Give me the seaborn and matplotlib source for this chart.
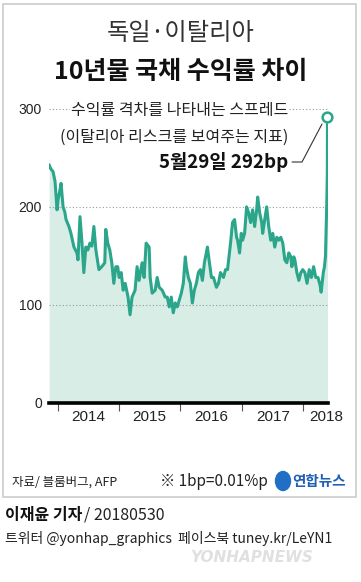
import matplotlib
matplotlib.use("Agg")
import matplotlib.pyplot as plt
from matplotlib.patches import Rectangle, Ellipse
import seaborn as sns
import pandas as pd

sns.set_theme(style="white")
plt.rcParams['font.family'] = ['Noto Sans CJK KR', 'DejaVu Sans']

# Germany-Italy 10y spread (bp)
dates = [
    "2013-11-09", "2013-11-15", "2013-11-22", "2013-12-02", "2013-12-14", "2013-12-26",
    "2014-01-01", "2014-01-10", "2014-01-19", "2014-01-31", "2014-02-10", "2014-02-18",
    "2014-03-07", "2014-03-19", "2014-04-06", "2014-04-24", "2014-04-30", "2014-05-12",
    "2014-05-24", "2014-06-04", "2014-06-16", "2014-06-28", "2014-07-10", "2014-07-22",
    "2014-08-03", "2014-08-15", "2014-09-02", "2014-09-19", "2014-10-07", "2014-10-13",
    "2014-10-25", "2014-11-06", "2014-11-18", "2014-11-30", "2014-12-12", "2014-12-23",
    "2015-01-01", "2015-01-13", "2015-01-25", "2015-02-06", "2015-02-23", "2015-03-07",
    "2015-03-19", "2015-04-06", "2015-04-18", "2015-04-30", "2015-05-18", "2015-05-30",
    "2015-06-11", "2015-06-29", "2015-07-05", "2015-07-17", "2015-08-04", "2015-08-16",
    "2015-08-28", "2015-09-15", "2015-10-03", "2015-10-15", "2015-10-27", "2015-11-08",
    "2015-11-20", "2015-12-02", "2015-12-14", "2015-12-26",
    "2016-01-07", "2016-01-19", "2016-01-31", "2016-02-06", "2016-02-18", "2016-03-01",
    "2016-03-13", "2016-03-25", "2016-04-06", "2016-04-18", "2016-04-30", "2016-05-12",
    "2016-05-24", "2016-06-11", "2016-06-23", "2016-07-05", "2016-07-17", "2016-08-04",
    "2016-08-16", "2016-08-28", "2016-09-15", "2016-09-27", "2016-10-09", "2016-10-27",
    "2016-11-08", "2016-11-20", "2016-12-02", "2016-12-08", "2016-12-20", "2016-12-30",
    "2017-01-07", "2017-01-19", "2017-01-31", "2017-02-12", "2017-02-24", "2017-03-08",
    "2017-03-20", "2017-04-01", "2017-04-07", "2017-04-19", "2017-05-01", "2017-05-07",
    "2017-05-19", "2017-05-31", "2017-06-12", "2017-06-24", "2017-07-06", "2017-07-18",
    "2017-07-30", "2017-08-11", "2017-08-23", "2017-09-04", "2017-09-16", "2017-09-28",
    "2017-10-10", "2017-10-22", "2017-10-28", "2017-11-09", "2017-11-15", "2017-11-27",
    "2017-12-09", "2017-12-21",
    "2018-01-01", "2018-01-14", "2018-01-27", "2018-02-09", "2018-02-22", "2018-03-07",
    "2018-03-20", "2018-04-02", "2018-04-15", "2018-04-21", "2018-05-04", "2018-05-11",
    "2018-05-17", "2018-05-22", "2018-05-25", "2018-05-28", "2018-05-29",
]
spread = [
    243, 240, 238, 236, 226, 197,
    207, 215, 224, 200, 195, 187,
    180, 173, 159, 153, 146, 190,
    163, 133, 159, 156, 163, 160,
    180, 156, 136, 139, 143, 177,
    163, 156, 143, 122, 139, 139,
    128, 133, 115, 122, 108, 90,
    108, 115, 139, 125, 143, 128,
    163, 159, 128, 112, 115, 128,
    118, 115, 108, 108, 98, 108,
    92, 102, 98, 105,
    112, 122, 149, 139, 128, 122,
    102, 115, 122, 133, 136, 125,
    143, 159, 143, 128, 128, 118,
    122, 133, 128, 136, 136, 163,
    184, 187, 169, 166, 153, 173,
    166, 173, 200, 194, 184, 197,
    180, 197, 210, 194, 184, 173,
    187, 200, 180, 166, 173, 159,
    169, 166, 169, 163, 146, 143,
    153, 149, 139, 149, 146, 133,
    125, 133,
    136, 133, 122, 136, 128, 139,
    128, 128, 120, 113, 133, 139,
    150, 185, 206, 235, 292,
]
year_ticks = ["2014-01-01", "2015-01-01", "2016-01-01", "2017-01-01", "2018-01-01"]
year_label_pos = ["2014-06-29", "2015-07-01", "2016-07-01", "2017-07-06", "2018-05-24"]
year_labels = ["2014", "2015", "2016", "2017", "2018"]
y_ticks = [0, 100, 200, 300]

df = pd.DataFrame({"date": pd.to_datetime(dates), "spread": spread})

W, H = 361, 582
fig = plt.figure(figsize=(W / 100, H / 100), dpi=100)
fig.patch.set_facecolor("white")


def fx(px):
    return px / W


def fy(py):
    return 1 - py / H


line_c = "#2ba68a"
fill_c = "#d7ede6"

ax = fig.add_axes([fx(49), fy(403), fx(328) - fx(49), fy(99) - fy(403)])
ax.set_facecolor("none")
ax.fill_between(df["date"], df["spread"], 0, color=fill_c, lw=0, zorder=1)
sns.lineplot(data=df, x="date", y="spread", ax=ax, color=line_c, lw=2.2, zorder=3)
ax.plot(df["date"].iloc[-1], df["spread"].iloc[-1], "o", ms=7, mfc="white",
        mec=line_c, mew=1.8, zorder=5, clip_on=False)

ax.set_xlim(pd.Timestamp("2013-11-08"), pd.Timestamp("2018-06-01"))
ax.set_ylim(0, 310)
for v in y_ticks[1:]:
    ax.axhline(v, color="#999999", lw=0.8, ls=(0, (1, 2)), zorder=2)

for s in ["top", "right", "left"]:
    ax.spines[s].set_visible(False)
ax.spines["bottom"].set_color("black")
ax.spines["bottom"].set_linewidth(2.6)
ax.spines["bottom"].set_zorder(6)

ax.set_xticks(pd.to_datetime(year_ticks))
ax.set_xticklabels([])
ax.set_xticks(pd.to_datetime(year_label_pos), minor=True)
ax.set_xticklabels(year_labels, minor=True, fontsize=11, color="#222222",
                   family="Liberation Sans")
ax.tick_params(axis="x", which="major", bottom=True, length=6, width=0.8,
               color="#555555", direction="out")
ax.tick_params(axis="x", which="minor", bottom=False, length=0, pad=5)
ax.set_yticks(y_ticks)
ax.set_yticklabels([str(v) for v in y_ticks], fontsize=10, color="#222222",
                   family="Liberation Sans")
ax.tick_params(axis="y", left=False, length=0, pad=5)
ax.set_xlabel("")
ax.set_ylabel("")

# annotation
box = dict(facecolor="white", edgecolor="none", pad=0.5)
fig.text(fx(288), fy(111), "수익률 격차를 나타내는 스프레드", ha="right", va="center",
         fontsize=11.5, color="#222222", bbox=box)
fig.text(fx(288), fy(137), "(이탈리아 리스크를 보여주는 지표)", ha="right", va="center",
         fontsize=11.5, color="#222222", bbox=box)
fig.text(fx(288), fy(162), "5월29일 292bp", ha="right", va="center",
         fontsize=13.5, color="#111111", fontweight="bold")
fig.add_artist(plt.Line2D([fx(292), fx(302), fx(322)], [fy(162), fy(162), fy(124)],
                          color="#333333", lw=0.8))

# titles
fig.text(0.5, fy(33), "독일·이탈리아", ha="center", va="center", fontsize=17.5,
         color="#333333")
fig.text(0.5, fy(72), "10년물 국채 수익률 차이", ha="center", va="center",
         fontsize=18, color="#111111", fontweight="bold")

# frame
fig.add_artist(Rectangle((fx(3), fy(497)), fx(356) - fx(3), fy(4) - fy(497),
                         transform=fig.transFigure, fill=False,
                         edgecolor="#cccccc", lw=1.2))

# footer inside frame
fig.text(fx(12), fy(482), "자료/ 블룸버그, AFP", ha="left", va="center",
         fontsize=9, style="italic", color="#222222")
fig.text(fx(268), fy(482), "※ 1bp=0.01%p", ha="right", va="center",
         fontsize=11, color="#222222")
fig.add_artist(Ellipse((fx(283), fy(481)), fx(15), 19 / H,
                       transform=fig.transFigure, color="#1f6fc4"))
fig.text(fx(292), fy(481), "연합뉴스", ha="left", va="center", fontsize=10.5,
         fontweight="bold", color="#1f5fb5")

# credits
fig.text(fx(5), fy(515), "이재윤 기자", ha="left", va="center", fontsize=11.5,
         fontweight="bold", color="#111111")
fig.text(fx(84), fy(515), "/ 20180530", ha="left", va="center", fontsize=11.5,
         color="#222222")
fig.text(fx(5), fy(538), "트위터 @yonhap_graphics  페이스북 tuney.kr/LeYN1",
         ha="left", va="center", fontsize=10, color="#222222")
fig.text(fx(190), fy(557), "YONHAPNEWS", ha="left", va="center", fontsize=11,
         fontweight="bold", style="italic", color="#bbbbbb", alpha=0.45,
         family="DejaVu Sans")

fig.savefig("out.png", dpi=100, facecolor="white")
